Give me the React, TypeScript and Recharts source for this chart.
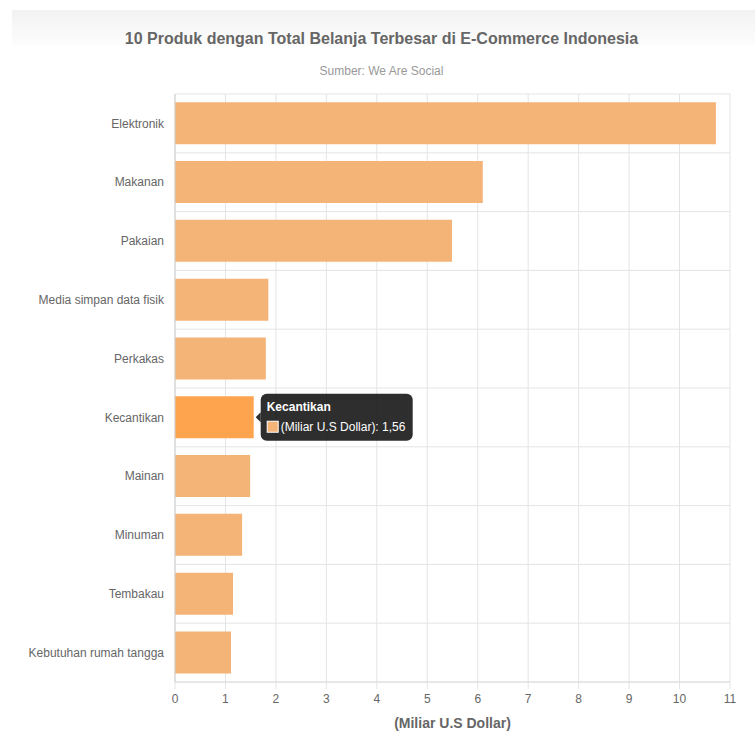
import { BarChart, Bar, XAxis, YAxis, CartesianGrid, Cell, LabelList } from "recharts";

const categories = [
  "Elektronik",
  "Makanan",
  "Pakaian",
  "Media simpan data fisik",
  "Perkakas",
  "Kecantikan",
  "Mainan",
  "Minuman",
  "Tembakau",
  "Kebutuhan rumah tangga",
];
const spending = [10.72, 6.1, 5.49, 1.85, 1.8, 1.56, 1.49, 1.33, 1.15, 1.11];
const xTicks = [0, 1, 2, 3, 4, 5, 6, 7, 8, 9, 10, 11];
const seriesName = "(Miliar U.S Dollar)";
const activeCategory = "Kecantikan";

const FONT = "'Liberation Sans', Arial, Helvetica, sans-serif";
const BAR = "#f4b377";
const BAR_ACTIVE = "#fea44f";
const GRID = "#e4e4e4";

const data = categories.map((name, i) => ({ name, value: spending[i] }));

function fmt(v: number) {
  return v.toFixed(2).replace(".", ",");
}

// draws the hover tooltip next to the highlighted bar
function TooltipLabel(props: any) {
  const { x, y, width, height, index } = props;
  if (data[index]?.name !== activeCategory) return null;
  const cy = y + height / 2;
  const left = x + width + 7;
  const w = 152;
  const h = 47;
  const top = cy - h / 2;
  return (
    <g>
      <path d={`M${left - 5},${cy} L${left},${cy - 5} L${left},${cy + 5} Z`} fill="rgba(0,0,0,0.82)" />
      <rect x={left} y={top} width={w} height={h} rx={6} fill="rgba(0,0,0,0.82)" />
      <text x={left + 6} y={top + 17} fill="#fff" fontSize={12} fontWeight="bold" fontFamily={FONT}>
        {data[index].name}
      </text>
      <rect x={left + 6.5} y={top + 27.5} width={11} height={11} fill={BAR} stroke="#fff" strokeWidth={1} />
      <text x={left + 20} y={top + 37} fill="#fff" fontSize={12} fontFamily={FONT}>
        {`${seriesName}: ${fmt(data[index].value)}`}
      </text>
    </g>
  );
}

export default function App() {
  return (
    <div style={{ position: "absolute", left: 0, top: 0, width: 755, height: 731, background: "#fff", fontFamily: FONT }}>
      <div
        style={{
          position: "absolute",
          left: 12,
          top: 10,
          width: 743,
          height: 36,
          background: "linear-gradient(#f2f2f2, #fdfdfd)",
        }}
      />
      <div
        style={{
          position: "absolute",
          left: 0,
          top: 30,
          width: 763,
          textAlign: "center",
          fontSize: 16,
          fontWeight: "bold",
          color: "#666",
        }}
      >
        10 Produk dengan Total Belanja Terbesar di E-Commerce Indonesia
      </div>
      <div
        style={{
          position: "absolute",
          left: 0,
          top: 64,
          width: 763,
          textAlign: "center",
          fontSize: 12,
          color: "#999",
        }}
      >
        Sumber: We Are Social
      </div>
      <div style={{ position: "absolute", left: 0, top: 0 }}>
        <BarChart
          width={755}
          height={731}
          data={data}
          layout="vertical"
          margin={{ top: 94, right: 25, bottom: 0, left: 0 }}
          barCategoryGap="14%"
        >
          <CartesianGrid
            stroke={GRID}
            horizontalCoordinatesGenerator={({ offset }: any) =>
              categories.map((_, i) => offset.top + (i * offset.height) / categories.length)
            }
          />
          <XAxis
            type="number"
            domain={[0, 11]}
            ticks={xTicks}
            interval={0}
            height={49}
            tick={{ fill: "#666", fontSize: 12, fontFamily: FONT }}
            tickLine={{ stroke: GRID }}
            tickSize={7}
            tickMargin={5}
            axisLine={{ stroke: "#cfcfcf" }}
            label={{
              value: seriesName,
              position: "insideBottom",
              offset: 3,
              fill: "#666",
              fontSize: 14,
              fontWeight: "bold",
              fontFamily: FONT,
            }}
          />
          <YAxis
            type="category"
            dataKey="name"
            width={175}
            interval={0}
            tick={{ fill: "#666", fontSize: 12, fontFamily: FONT }}
            tickLine={false}
            tickSize={0}
            tickMargin={11}
            axisLine={{ stroke: "#cfcfcf" }}
          />
          <Bar dataKey="value" isAnimationActive={false}>
            {data.map((d) => (
              <Cell key={d.name} fill={d.name === activeCategory ? BAR_ACTIVE : BAR} />
            ))}
            <LabelList dataKey="value" content={<TooltipLabel />} />
          </Bar>
        </BarChart>
      </div>
    </div>
  );
}
